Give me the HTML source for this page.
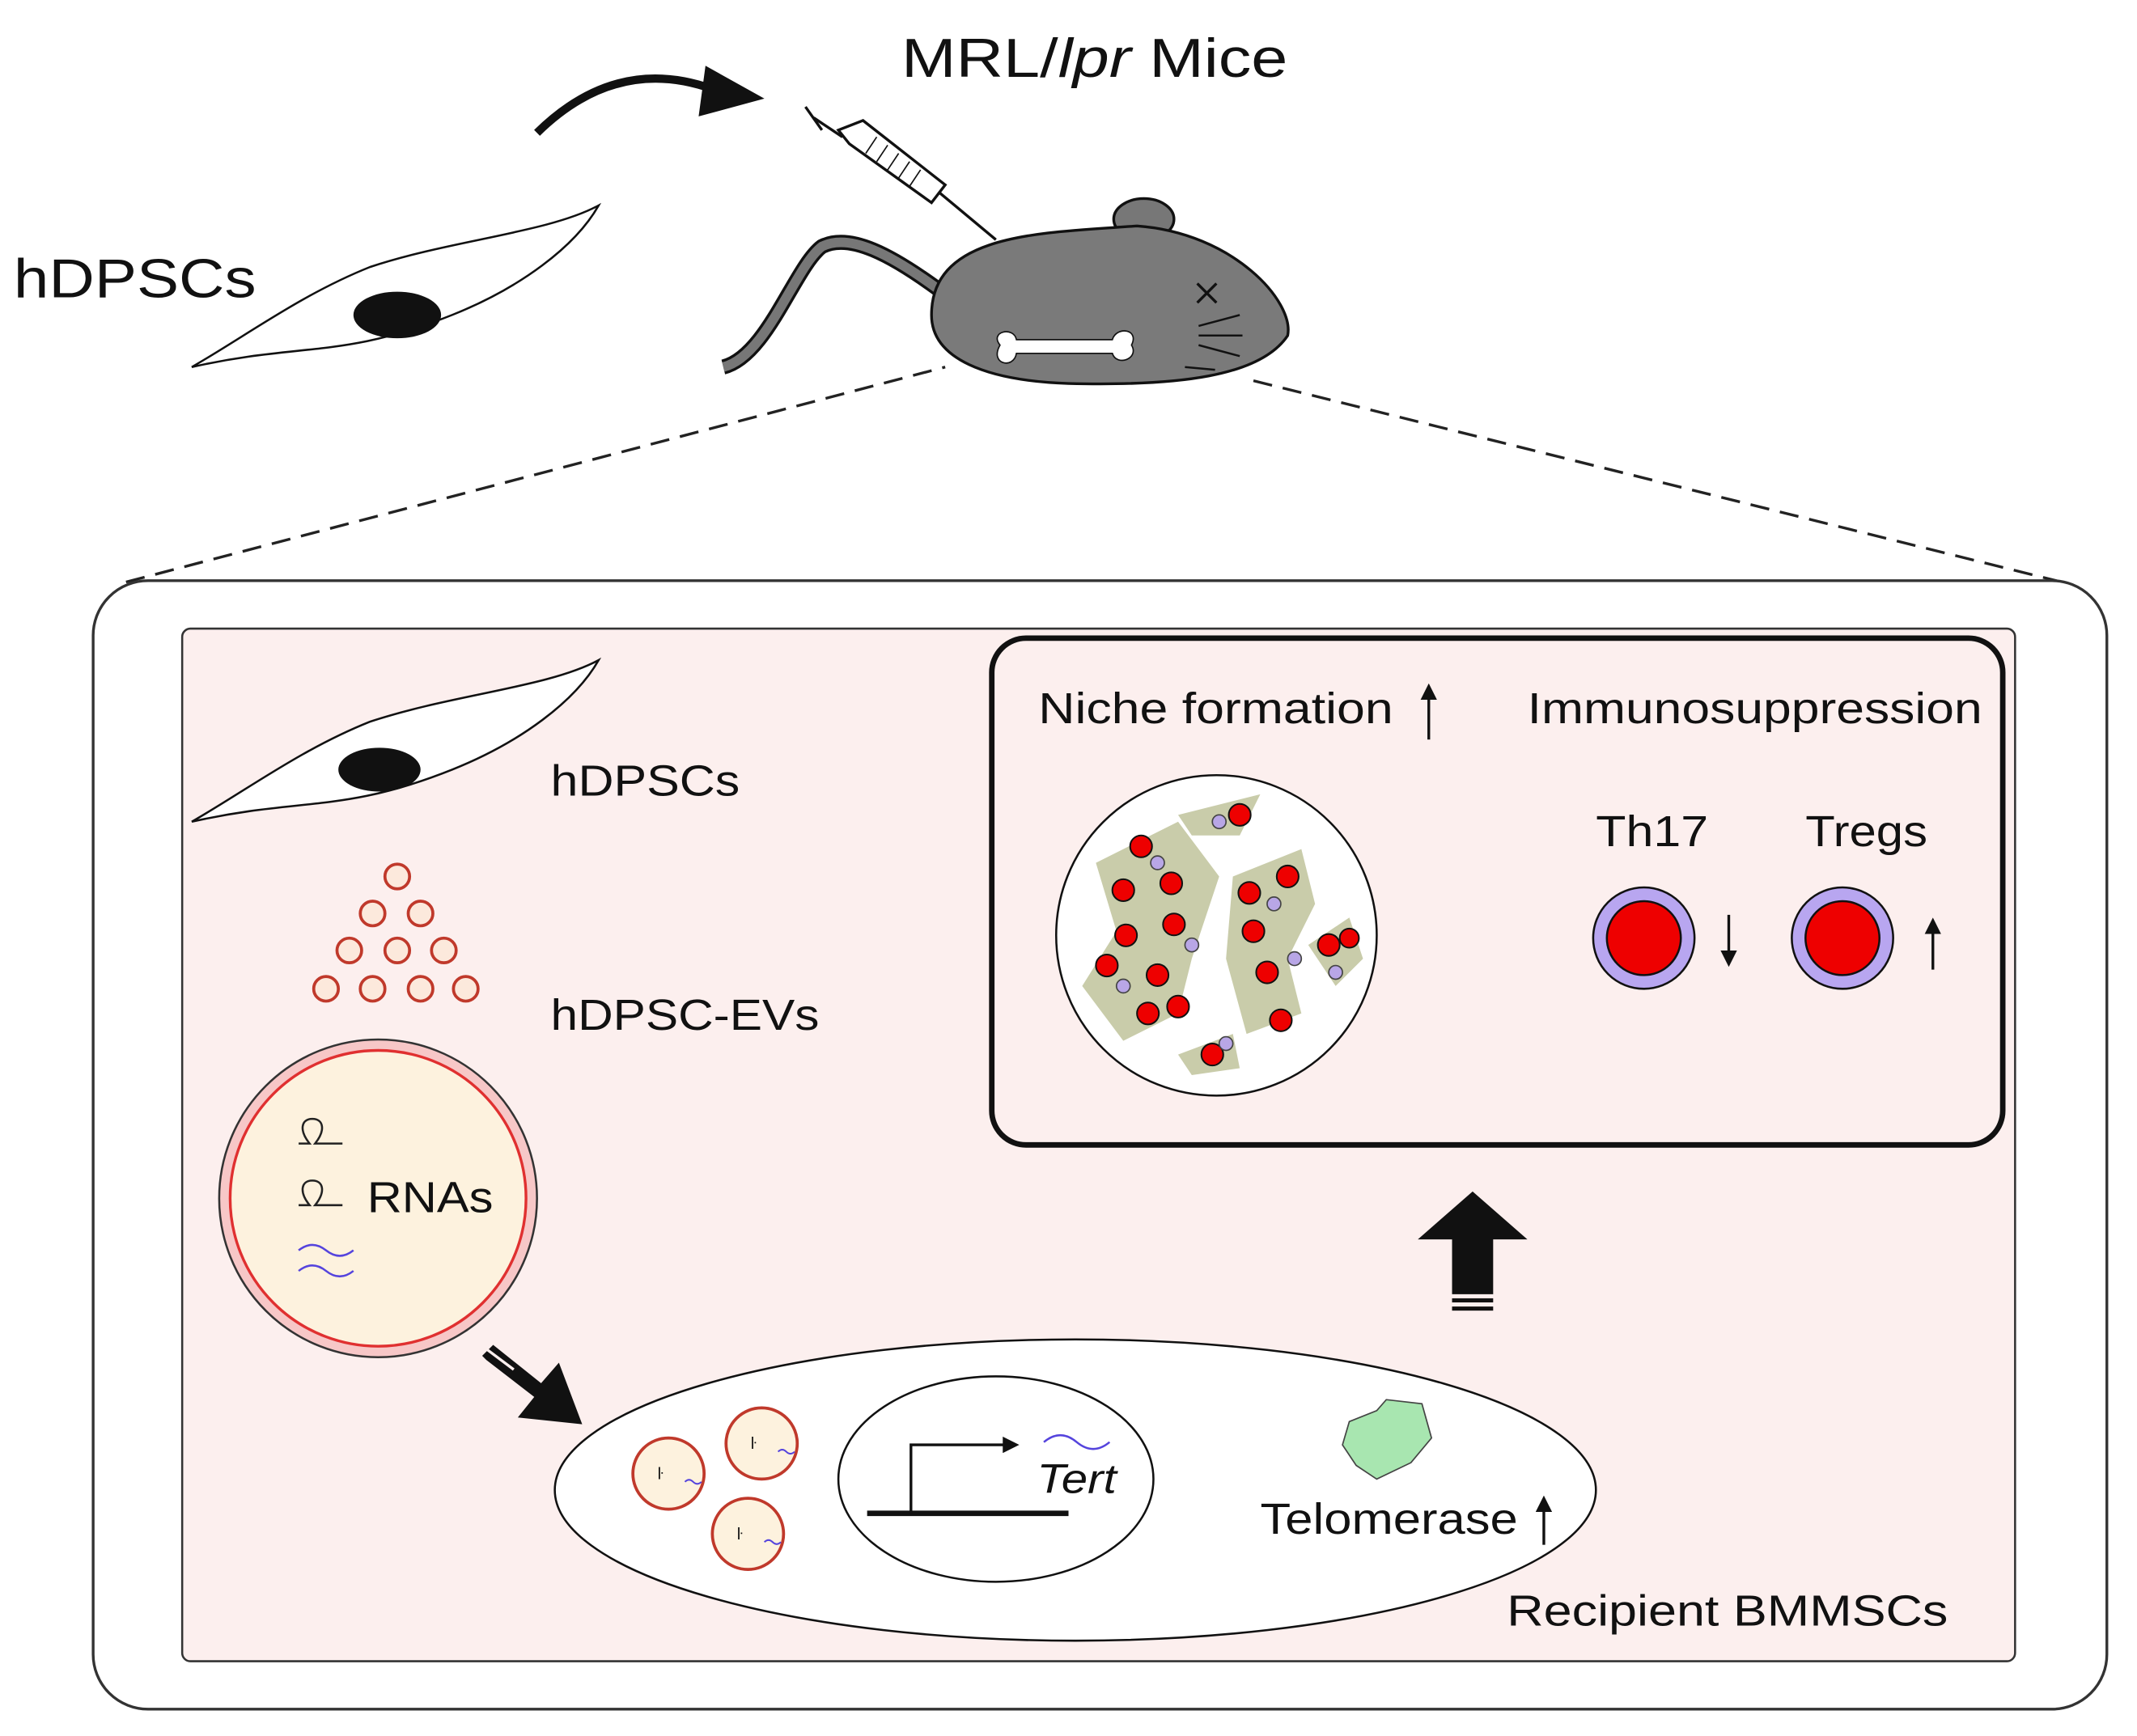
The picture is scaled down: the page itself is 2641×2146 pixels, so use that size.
<!DOCTYPE html>
<html><head><meta charset="utf-8"><style>html,body{margin:0;padding:0;background:#fff}svg{display:block}text{font-family:"Liberation Sans",sans-serif;fill:#111}</style></head>
<body>
<svg width="2641" height="2146" viewBox="0 0 1560 1267.6" preserveAspectRatio="none" xmlns="http://www.w3.org/2000/svg">
<defs>
<marker id="ah" markerWidth="6" markerHeight="6" refX="3" refY="3" orient="auto"><path d="M0,0 L6,3 L0,6 z" fill="#111"/></marker>
</defs>
<!-- top -->
<text x="658" y="56" font-size="40" textLength="282" lengthAdjust="spacingAndGlyphs">MRL/<tspan font-style="italic">lpr</tspan> Mice</text>
<text x="10" y="217" font-size="40" textLength="177" lengthAdjust="spacingAndGlyphs">hDPSCs</text>
<path d="M392,97 Q450,40 520,65" fill="none" stroke="#111" stroke-width="6"/>
<path d="M515,48 L558,72 L510,85 z" fill="#111"/>
<!-- top cell -->
<path d="M140,268 C220,250 250,262 330,230 C380,210 420,180 437,150 C400,170 330,175 270,195 C220,215 180,245 140,268 z" fill="#fff" stroke="#111" stroke-width="1.5"/>
<ellipse cx="290" cy="230" rx="32" ry="17" fill="#111"/>
<!-- syringe -->
<g stroke="#111" stroke-width="2" fill="#fff">
<line x1="588" y1="78" x2="600" y2="95"/>
<line x1="594" y1="86" x2="615" y2="100"/>
<path d="M612,95 L630,88 L690,135 L680,148 L620,105 z"/>
<line x1="685" y1="140" x2="727" y2="175"/>
</g>
<g stroke="#111" stroke-width="1">
<line x1="640" y1="100" x2="632" y2="112"/><line x1="648" y1="106" x2="640" y2="118"/><line x1="656" y1="112" x2="648" y2="124"/><line x1="664" y1="118" x2="656" y2="130"/><line x1="672" y1="124" x2="664" y2="136"/>
</g>
<!-- mouse -->
<path d="M690,215 C650,185 620,170 600,180 C580,195 560,260 528,268" fill="none" stroke="#111" stroke-width="11"/>
<path d="M690,215 C650,185 620,170 600,180 C580,195 560,260 528,268" fill="none" stroke="#777" stroke-width="7"/>
<ellipse cx="835" cy="160" rx="22" ry="15" fill="#777" stroke="#111" stroke-width="2"/>
<path d="M680,230 C680,170 760,170 830,165 C900,170 945,220 940,245 C920,275 860,282 780,280 C720,278 680,262 680,230 z" fill="#7a7a7a" stroke="#111" stroke-width="2"/>
<path d="M874,207 l14,14 M888,207 l-14,14" stroke="#111" stroke-width="2"/>
<path d="M875,238 l30,-8 M875,245 l32,0 M875,252 l30,8 M865,268 l22,2" stroke="#111" stroke-width="1.5"/>
<path d="M730,252 C722,242 740,238 742,248 L812,248 C815,238 832,240 826,252 C832,262 815,268 812,258 L742,258 C740,270 722,266 730,252 z" fill="#fff" stroke="#111" stroke-width="1"/>
<!-- dashed -->
<line x1="92" y1="425" x2="690" y2="268" stroke="#222" stroke-width="2" stroke-dasharray="14,8"/>
<line x1="915" y1="278" x2="1505" y2="425" stroke="#222" stroke-width="2" stroke-dasharray="14,8"/>
<!-- outer boxes -->
<rect x="68" y="424" width="1470" height="824" rx="40" fill="#fff" stroke="#333" stroke-width="2"/>
<rect x="133" y="459" width="1338" height="754" rx="6" fill="#fcefee" stroke="#333" stroke-width="1.5"/>
<!-- inner cell -->
<path d="M140,600 C220,582 250,594 330,562 C380,542 420,512 437,482 C400,502 330,507 270,527 C220,547 180,577 140,600 z" fill="#fff" stroke="#111" stroke-width="1.5"/>
<ellipse cx="277" cy="562" rx="30" ry="16" fill="#111"/>
<text x="402" y="581" font-size="32" textLength="138" lengthAdjust="spacingAndGlyphs">hDPSCs</text>
<g fill="#fce9dc" stroke="#c0392b" stroke-width="2.2">
<circle cx="290" cy="640" r="9"/>
<circle cx="272" cy="667" r="9"/><circle cx="307" cy="667" r="9"/>
<circle cx="255" cy="694" r="9"/><circle cx="290" cy="694" r="9"/><circle cx="324" cy="694" r="9"/>
<circle cx="238" cy="722" r="9"/><circle cx="272" cy="722" r="9"/><circle cx="307" cy="722" r="9"/><circle cx="340" cy="722" r="9"/>
</g>
<text x="402" y="752" font-size="32" textLength="196" lengthAdjust="spacingAndGlyphs">hDPSC-EVs</text>
<circle cx="276" cy="875" r="116" fill="#f7c7c7" stroke="#333" stroke-width="1.5"/>
<circle cx="276" cy="875" r="108" fill="#fdf2de" stroke="#e03030" stroke-width="2"/>
<path d="M218,835 l8,0 c-8,-10 -6,-18 2,-18 c8,0 10,8 2,18 l0,0 l20,0" fill="none" stroke="#222" stroke-width="1.5"/>
<path d="M218,880 l8,0 c-8,-10 -6,-18 2,-18 c8,0 10,8 2,18 l0,0 l20,0" fill="none" stroke="#222" stroke-width="1.5"/>
<path d="M218,913 q10,-8 20,0 t20,0 M218,928 q10,-8 20,0 t20,0" fill="none" stroke="#5544dd" stroke-width="1.5"/>
<text x="268" y="885" font-size="32" textLength="92" lengthAdjust="spacingAndGlyphs">RNAs</text>
<!-- diagonal arrow -->
<path d="M352,990 L360,982 L395,1010 L408,995 L425,1040 L378,1035 L390,1020 L355,993 z" fill="#111"/>
<line x1="355" y1="985" x2="375" y2="1000" stroke="#fcefee" stroke-width="2"/>
<!-- recipient ellipse -->
<ellipse cx="785" cy="1088" rx="380" ry="110" fill="#fff" stroke="#111" stroke-width="1.5"/>
<ellipse cx="727" cy="1080" rx="115" ry="75" fill="#fff" stroke="#111" stroke-width="1.5"/>
<line x1="633" y1="1105" x2="780" y2="1105" stroke="#111" stroke-width="4"/>
<path d="M665,1105 L665,1055 L738,1055" fill="none" stroke="#111" stroke-width="2" marker-end="url(#ah)"/>
<path d="M762,1053 q12,-10 24,0 t24,0" fill="none" stroke="#5544dd" stroke-width="1.5"/>
<text x="757" y="1090" font-size="30" font-style="italic" textLength="58" lengthAdjust="spacingAndGlyphs">Tert</text>
<g fill="#fdf2de" stroke="#c0392b" stroke-width="2.2">
<circle cx="488" cy="1076" r="26"/><circle cx="556" cy="1054" r="26"/><circle cx="546" cy="1120" r="26"/>
</g>
<g font-size="12"><text x="480" y="1080">ŀ</text><text x="548" y="1058">ŀ</text><text x="538" y="1124">ŀ</text></g>
<path d="M500,1082 q3,-3 6,0 t6,0 M568,1060 q3,-3 6,0 t6,0 M558,1126 q3,-3 6,0 t6,0" fill="none" stroke="#5544dd" stroke-width="1.2"/>
<path d="M985,1038 L1005,1030 L1012,1022 L1038,1025 L1045,1050 L1030,1068 L1005,1080 L990,1070 L980,1055 z" fill="#a8e6b0" stroke="#444" stroke-width="1"/>
<text x="920" y="1120" font-size="32" textLength="188" lengthAdjust="spacingAndGlyphs">Telomerase</text>
<line x1="1127" y1="1128" x2="1127" y2="1098" stroke="#111" stroke-width="2" marker-end="url(#ah)"/>
<text x="1100" y="1187" font-size="32" textLength="322" lengthAdjust="spacingAndGlyphs">Recipient BMMSCs</text>
<!-- up arrow -->
<path d="M1035,905 L1075,870 L1115,905 L1090,905 L1090,945 L1060,945 L1060,905 z" fill="#111"/>
<rect x="1060" y="948" width="30" height="3" fill="#111"/><rect x="1060" y="954" width="30" height="3" fill="#111"/>
<!-- niche box -->
<rect x="724" y="466" width="738" height="370" rx="25" fill="#fcefee" stroke="#111" stroke-width="4"/>
<text x="758" y="528" font-size="32" textLength="259" lengthAdjust="spacingAndGlyphs">Niche formation</text>
<line x1="1043" y1="540" x2="1043" y2="505" stroke="#111" stroke-width="2" marker-end="url(#ah)"/>
<text x="1115" y="528" font-size="32" textLength="332" lengthAdjust="spacingAndGlyphs">Immunosuppression</text>
<circle cx="888" cy="683" r="117" fill="#fff" stroke="#111" stroke-width="1.5"/>
<g fill="#c9ccaa">
<path d="M800,630 L860,600 L890,640 L870,700 L860,740 L820,760 L790,720 L815,680 z"/>
<path d="M860,595 L920,580 L905,610 L870,610 z"/>
<path d="M900,640 L950,620 L960,660 L940,700 L950,740 L910,755 L895,700 z"/>
<path d="M955,690 L985,670 L995,700 L975,720 z"/>
<path d="M860,770 L900,755 L905,780 L870,785 z"/>
</g>
<g fill="#e00" stroke="#111" stroke-width="1.2">
<circle cx="833" cy="618" r="8"/><circle cx="820" cy="650" r="8"/><circle cx="855" cy="645" r="8"/><circle cx="822" cy="683" r="8"/><circle cx="857" cy="675" r="8"/><circle cx="808" cy="705" r="8"/><circle cx="845" cy="712" r="8"/><circle cx="860" cy="735" r="8"/><circle cx="838" cy="740" r="8"/><circle cx="905" cy="595" r="8"/><circle cx="912" cy="652" r="8"/><circle cx="940" cy="640" r="8"/><circle cx="915" cy="680" r="8"/><circle cx="925" cy="710" r="8"/><circle cx="935" cy="745" r="8"/><circle cx="970" cy="690" r="8"/><circle cx="985" cy="685" r="7"/><circle cx="885" cy="770" r="8"/>
</g>
<g fill="#b8a6e6" stroke="#444" stroke-width="1">
<circle cx="845" cy="630" r="5"/><circle cx="870" cy="690" r="5"/><circle cx="820" cy="720" r="5"/><circle cx="930" cy="660" r="5"/><circle cx="945" cy="700" r="5"/><circle cx="895" cy="762" r="5"/><circle cx="890" cy="600" r="5"/><circle cx="975" cy="710" r="5"/>
</g>
<text x="1165" y="618" font-size="32" textLength="82" lengthAdjust="spacingAndGlyphs">Th17</text>
<text x="1318" y="618" font-size="32" textLength="89" lengthAdjust="spacingAndGlyphs">Tregs</text>
<circle cx="1200" cy="685" r="37" fill="#b8a6f0" stroke="#111" stroke-width="1.5"/>
<circle cx="1200" cy="685" r="27" fill="#e00" stroke="#111" stroke-width="1.5"/>
<circle cx="1345" cy="685" r="37" fill="#b8a6f0" stroke="#111" stroke-width="1.5"/>
<circle cx="1345" cy="685" r="27" fill="#e00" stroke="#111" stroke-width="1.5"/>
<line x1="1262" y1="668" x2="1262" y2="700" stroke="#111" stroke-width="2" marker-end="url(#ah)"/>
<line x1="1411" y1="708" x2="1411" y2="676" stroke="#111" stroke-width="2" marker-end="url(#ah)"/>
</svg>
</body></html>
